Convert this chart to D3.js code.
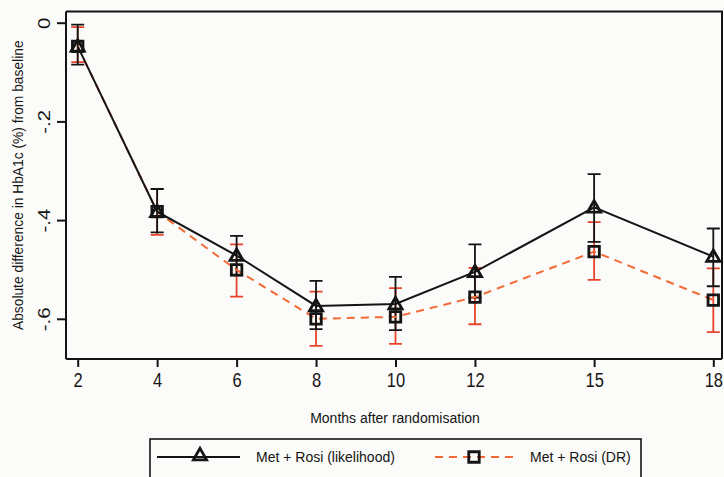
<!DOCTYPE html>
<html>
<head>
<meta charset="utf-8">
<script src="https://cdn.jsdelivr.net/npm/d3@7"></script>
<style>
  body { margin: 0; background: #fbfbf9; }
  svg { display: block; }
</style>
</head>
<body>
<svg id="chart" width="724" height="477"></svg>
<script>
// Data
var months = [2, 4, 6, 8, 10, 12, 15, 18];
var likMean = [-0.048, -0.383, -0.472, -0.574, -0.570, -0.505, -0.374, -0.474];
var likLo   = [-0.085, -0.425, -0.512, -0.621, -0.623, -0.557, -0.444, -0.534];
var likHi   = [-0.004, -0.337, -0.432, -0.523, -0.515, -0.449, -0.307, -0.417];
var drMean  = [-0.048, -0.383, -0.501, -0.600, -0.596, -0.556, -0.464, -0.562];
var drLo    = [-0.080, -0.430, -0.555, -0.655, -0.651, -0.611, -0.521, -0.627];
var drHi    = [-0.009, -0.337, -0.449, -0.545, -0.538, -0.497, -0.404, -0.498];
var yTicks = [0, -0.2, -0.4, -0.6];
var yTickLabels = ["0", "-.2", "-.4", "-.6"];
var seriesNames = ["Met + Rosi (likelihood)", "Met + Rosi (DR)"];

var black = "#141414", red = "#e8452c", orange = "#f26a35";

var svg = d3.select("#chart")
  .attr("font-family", "'Liberation Sans', Arial, sans-serif");

var plotL = 66, plotT = 11.5, plotR = 722, plotB = 359;

var x = d3.scaleLinear().domain([2, 18]).range([77.7, 713.3]);
var y = d3.scaleLinear().domain([0, -0.6]).range([22.7, 318.8]);

// plot region frame (top + right)
svg.append("path")
  .attr("d", "M" + plotL + "," + plotT + "H" + plotR + "V" + plotB)
  .attr("fill", "none")
  .attr("stroke", black)
  .attr("stroke-width", 2);

// axes (tick labels are tall and narrow in the scan, so stretch them)
var yAxis = svg.append("g")
  .attr("transform", "translate(" + plotL + ",0)")
  .call(d3.axisLeft(y).tickValues(yTicks)
    .tickFormat(function(d, i) { return yTickLabels[i]; })
    .tickSize(9).tickPadding(0));
yAxis.select(".domain").attr("d", "M0," + plotT + "V" + plotB);
yAxis.selectAll("text")
  .attr("x", 0).attr("y", 0).attr("dy", null)
  .attr("text-anchor", "middle")
  .attr("transform", "translate(-16,0) rotate(-90) scale(1.24,1)")
  .attr("font-size", 16.5)
  .attr("fill", black);

var xAxis = svg.append("g")
  .attr("transform", "translate(0," + plotB + ")")
  .call(d3.axisBottom(x).tickValues(months).tickFormat(d3.format("d"))
    .tickSize(8));
xAxis.select(".domain").attr("d", "M" + plotL + ",0H" + plotR);
xAxis.selectAll("text")
  .attr("y", 22.6).attr("dy", null)
  .attr("transform", "scale(1,1.24)")
  .attr("font-size", 16.5)
  .attr("fill", black);

svg.selectAll(".domain, .tick line")
  .attr("stroke", black)
  .attr("stroke-width", 2);

// axis titles
svg.append("text")
  .attr("transform", "translate(18," + ((plotT + plotB) / 2) + ") rotate(-90)")
  .attr("text-anchor", "middle")
  .attr("dominant-baseline", "central")
  .attr("font-size", 13.8)
  .attr("fill", black)
  .text("Absolute difference in HbA1c (%) from baseline");

svg.append("text")
  .attr("x", 395).attr("y", 422.5)
  .attr("text-anchor", "middle")
  .attr("font-size", 14)
  .attr("fill", black)
  .text("Months after randomisation");

// error bars
function errorBars(lo, hi, color) {
  var g = svg.append("g").attr("stroke", color).attr("stroke-width", 1.8).attr("fill", "none");
  months.forEach(function(m, i) {
    var cx = x(m), y1 = y(lo[i]), y2 = y(hi[i]);
    g.append("path").attr("d",
      "M" + cx + "," + y1 + "V" + y2 +
      "M" + (cx - 6.5) + "," + y1 + "h13" +
      "M" + (cx - 6.5) + "," + y2 + "h13");
  });
}
errorBars(drLo, drHi, red);
errorBars(likLo, likHi, black);

// lines
var line = d3.line()
  .x(function(d) { return x(d[0]); })
  .y(function(d) { return y(d[1]); });

svg.append("path")
  .datum(d3.zip(months, drMean))
  .attr("d", line)
  .attr("fill", "none")
  .attr("stroke", orange)
  .attr("stroke-width", 2)
  .attr("stroke-dasharray", "8,6");

svg.append("path")
  .datum(d3.zip(months, likMean))
  .attr("d", line)
  .attr("fill", "none")
  .attr("stroke", black)
  .attr("stroke-width", 2);

// markers
var tri = d3.symbol().type(d3.symbolTriangle).size(75);
var sq = d3.symbol().type(d3.symbolSquare).size(110);

svg.selectAll(".sq")
  .data(d3.zip(months, drMean))
  .enter().append("path")
  .attr("class", "sq")
  .attr("d", sq)
  .attr("transform", function(d) { return "translate(" + x(d[0]) + "," + y(d[1]) + ")"; })
  .attr("fill", "none")
  .attr("stroke", black)
  .attr("stroke-width", 2.8);

svg.selectAll(".tri")
  .data(d3.zip(months, likMean))
  .enter().append("path")
  .attr("class", "tri")
  .attr("d", tri)
  .attr("transform", function(d) { return "translate(" + x(d[0]) + "," + (y(d[1]) + 1) + ")"; })
  .attr("fill", "none")
  .attr("stroke", black)
  .attr("stroke-width", 2.8);

// legend
var legend = svg.append("g");
legend.append("rect")
  .attr("x", 150).attr("y", 439)
  .attr("width", 491).attr("height", 60)
  .attr("fill", "none")
  .attr("stroke", black)
  .attr("stroke-width", 1.6);

var ly = 457;
legend.append("line")
  .attr("x1", 157).attr("x2", 240).attr("y1", ly).attr("y2", ly)
  .attr("stroke", black).attr("stroke-width", 1.8);
legend.append("path")
  .attr("d", tri)
  .attr("transform", "translate(200," + (ly - 1) + ")")
  .attr("fill", "none").attr("stroke", black).attr("stroke-width", 2.8);
legend.append("text")
  .attr("x", 256).attr("y", ly).attr("dy", "0.35em")
  .attr("font-size", 14).attr("fill", black)
  .text(seriesNames[0]);

legend.append("line")
  .attr("x1", 435).attr("x2", 515).attr("y1", ly).attr("y2", ly)
  .attr("stroke", orange).attr("stroke-width", 2)
  .attr("stroke-dasharray", "8,6");
legend.append("path")
  .attr("d", sq)
  .attr("transform", "translate(474," + ly + ")")
  .attr("fill", "none").attr("stroke", black).attr("stroke-width", 2.8);
legend.append("text")
  .attr("x", 530).attr("y", ly).attr("dy", "0.35em")
  .attr("font-size", 14).attr("fill", black)
  .text(seriesNames[1]);
</script>
</body>
</html>
